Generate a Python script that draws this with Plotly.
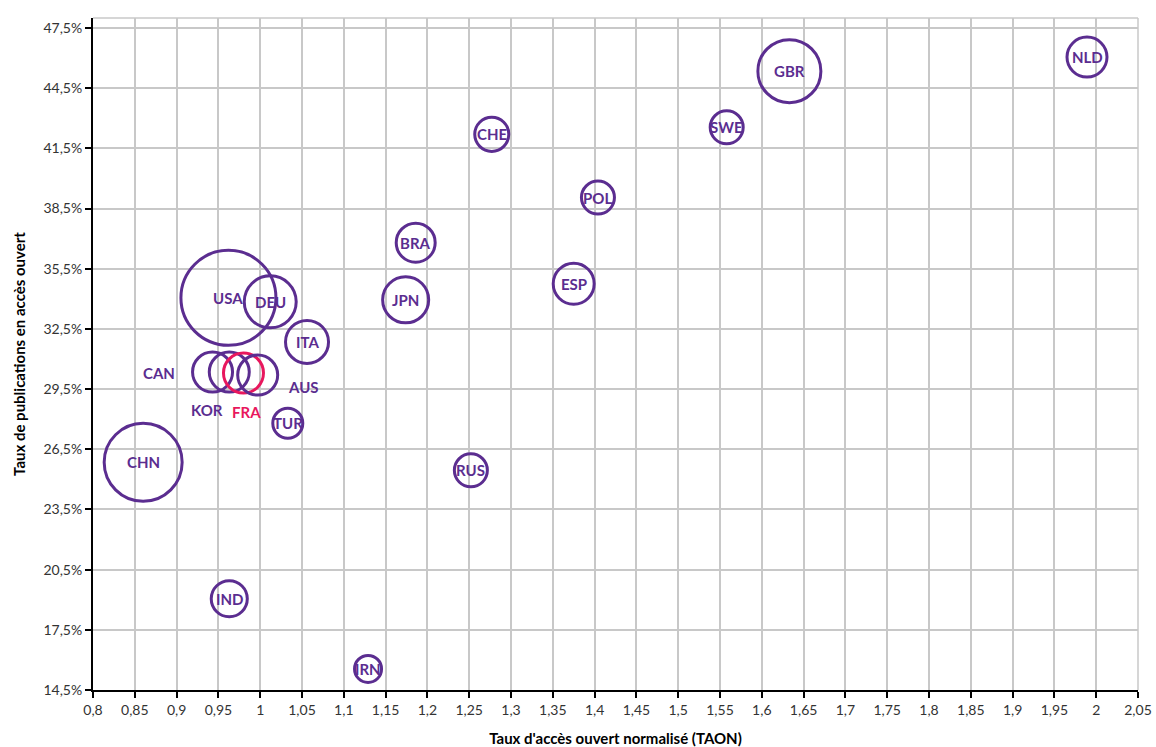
import plotly.graph_objects as go

# Data
pays = ["NLD", "GBR", "SWE", "CHE", "POL", "BRA", "ESP", "JPN", "USA", "DEU",
        "ITA", "CAN", "KOR", "FRA", "AUS", "TUR", "CHN", "RUS", "IND", "IRN"]
taon = [1.989, 1.633, 1.558, 1.277, 1.404, 1.186, 1.375, 1.174, 0.962, 1.012,
        1.056, 0.943, 0.963, 0.980, 0.997, 1.033, 0.860, 1.252, 0.963, 1.129]
taux_oa = [46.05, 45.35, 42.55, 42.2, 39.05, 36.8, 34.75, 33.95, 34.05, 33.85,
           31.85, 30.35, 30.35, 30.3, 30.2, 27.8, 25.85, 25.45, 19.05, 15.55]
volume = [16.0, 39.7, 10.9, 11.6, 10.9, 15.2, 16.8, 21.2, 90.3, 27.0,
          18.5, 16.0, 16.0, 16.0, 16.0, 9.0, 60.8, 10.9, 13.0, 7.3]

y_ticks = [14.5, 17.5, 20.5, 23.5, 26.5, 29.5, 32.5, 35.5, 38.5, 41.5, 44.5, 47.5]
y_ticktext = [f"{v:.1f}%".replace(".", ",") for v in y_ticks]

PURPLE = "#5B2D90"
PINK = "#E8175D"
FONT = "Lato"

# label placement (pixel offsets) for the crowded cluster
outside = {"CAN": (-54, -1), "KOR": (-22, -38), "FRA": (3, -39), "AUS": (46, -12)}

colors = [PINK if p == "FRA" else PURPLE for p in pays]

fig = go.Figure()
fig.add_trace(go.Scatter(
    x=taon, y=taux_oa, mode="markers",
    marker=dict(size=volume, sizemode="area", sizeref=0.02, opacity=1,
                color="rgba(0,0,0,0)",
                line=dict(color=colors, width=3)),
    hoverinfo="text", text=pays, showlegend=False,
))

for p, x, y, c in zip(pays, taon, taux_oa, colors):
    dx, dy = outside.get(p, (0, 0))
    fig.add_annotation(x=x, y=y, text=f"<b>{p}</b>", showarrow=False,
                       xshift=dx, yshift=dy,
                       font=dict(family=FONT, size=15, color=c))

fig.update_layout(
    width=1156, height=747,
    margin=dict(l=93, r=18, t=18, b=57),
    paper_bgcolor="white", plot_bgcolor="white",
    separators=", ",
    font=dict(family=FONT, size=14, color="#333333"),
    shapes=[dict(type="line", xref="paper", yref="paper", x0=0, x1=1, y0=1, y1=1,
                 line=dict(color="#c8c8c8", width=1.5)),
            dict(type="line", xref="paper", yref="paper", x0=1, x1=1, y0=0, y1=1,
                 line=dict(color="#c8c8c8", width=1.5))],
)

fig.update_xaxes(
    range=[0.8, 2.05], tick0=0.8, dtick=0.05, automargin=False,
    showgrid=True, gridcolor="#c8c8c8", gridwidth=1.5,
    showline=True, linecolor="black", linewidth=2,
    ticks="outside", ticklen=6, tickwidth=2, tickcolor="black",
    zeroline=False,
    tickfont=dict(family=FONT, size=14, color="#333333"),
    title=dict(text="<b>Taux d'accès ouvert normalisé (TAON)</b>",
               font=dict(family=FONT, size=15, color="black"), standoff=20),
)
fig.update_yaxes(
    range=[14.5, 48.0], tickvals=y_ticks, ticktext=y_ticktext, automargin=False,
    showgrid=True, gridcolor="#c8c8c8", gridwidth=1.5,
    showline=True, linecolor="black", linewidth=2,
    ticks="outside", ticklen=6, tickwidth=2, tickcolor="black",
    zeroline=False,
    tickfont=dict(family=FONT, size=14, color="#333333"),
    title=dict(text="<b>Taux de publications en accès ouvert</b>",
               font=dict(family=FONT, size=15, color="black"), standoff=14),
)

fig.write_html(
    "out.html",
    config={"displayModeBar": False},
    post_script="document.body.style.margin='0';document.body.style.overflow='hidden';",
)
